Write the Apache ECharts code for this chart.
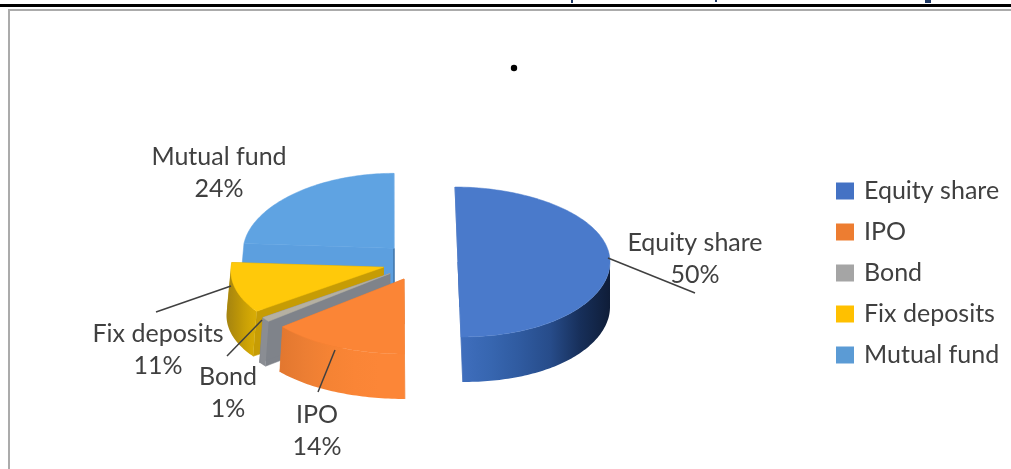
<!DOCTYPE html>
<html>
<head>
<meta charset="utf-8">
<style>html,body{margin:0;padding:0;background:#fff}#chart{width:1011px;height:469px}</style>
<script src="https://cdn.jsdelivr.net/npm/echarts@6/dist/echarts.min.js"></script>
</head>
<body>
<div id="chart"></div>
<script>
// Investment preference split, shown as an exploded tilted pie.
const categories = ['Equity share', 'IPO', 'Bond', 'Fix deposits', 'Mutual fund'];
const shares = [50, 14, 1, 11, 24];

const legendColors = ['#4472C4', '#ED7D31', '#A5A5A5', '#FFC000', '#5B9BD5'];
const faceColors = ['#4A7ACB', '#FB8536', '#B5B0A2', '#FFC90A', '#5FA3E2'];
const cutColors = ['#3D69B5', '#E5762C', '#7F838A', '#C69C05', '#5C9FDF'];
const rimStops = [
  ['#3F6EBD', '#3766B0', '#2F5A9F', '#274C8A', '#172F5A', '#0F1D38'],
  ['#E2772F', '#EC7E33', '#F58334', '#FA8536', '#FC8637', '#FC8637'],
  ['#83868C', '#8A8D93', '#8A8D93', '#8A8D93', '#8A8D93', '#8A8D93'],
  ['#A58410', '#B08C0C', '#BC9508', '#C89F06', '#D2A705', '#D9AD05'],
  ['#5B9CDB', '#5B9CDB', '#5B9CDB', '#5B9CDB', '#5B9CDB', '#5B9CDB']
];

// Label centres and leader lines, in page pixels.
const labelCentres = [[695, 259], [317, 431], [228, 393], [158, 350], [219, 173]];
const leaderLines = [
  [[608, 258], [695, 293]],
  [[335, 350], [318, 392]],
  [[262, 320], [227, 356]],
  [[231, 286], [156, 312]],
  null
];

const pie = { cx: 420, cy: 262, rx: 152, ry: 75, depth: 45, explode: 38, warp: 0.0006 };
const inkColor = '#404040';
const fontFamily = 'Lato, "Open Sans", sans-serif';

const total = shares.reduce((a, b) => a + b, 0);
let running = 0;
const sweeps = shares.map(v => {
  const from = running / total * Math.PI * 2;
  running += v;
  return [from, running / total * Math.PI * 2];
});

// Angles run clockwise from twelve o'clock. A little keystone narrows the far
// side and fades out toward the right-hand extreme of the pie.
function project(ox, oy, theta, radial, drop) {
  const x = ox + pie.rx * radial * Math.sin(theta);
  const y = oy - pie.ry * radial * Math.cos(theta) + drop;
  const taper = Math.min(1, Math.max(0, (pie.cx + 190 - x) / pie.rx));
  return [x + (x - 392) * (y - pie.cy) * pie.warp * taper, y];
}

function arcPoints(ox, oy, a, b, drop) {
  const steps = Math.max(2, Math.ceil((b - a) / 0.02));
  const pts = [];
  for (let i = 0; i <= steps; i++) {
    pts.push(project(ox, oy, a + (b - a) * i / steps, 1, drop));
  }
  return pts;
}

function sliceRenderer(index) {
  return function () {
    const [a, b] = sweeps[index];
    const mid = (a + b) / 2;
    const ox = pie.cx + pie.explode * Math.sin(mid);
    const oy = pie.cy - pie.ry / pie.rx * pie.explode * Math.cos(mid);
    const children = [];

    // Flat cut faces behind the rim.
    [a, b].forEach(theta => {
      const apexTop = project(ox, oy, theta, 0, 0);
      const apexLow = project(ox, oy, theta, 0, pie.depth);
      const edgeTop = project(ox, oy, theta, 1, 0);
      const edgeLow = project(ox, oy, theta, 1, pie.depth);
      children.push({
        type: 'polygon',
        shape: { points: [apexTop, edgeTop, edgeLow, apexLow] },
        style: { fill: cutColors[index], stroke: cutColors[index], lineWidth: 0.5 }
      });
    });

    // The cut at twelve o'clock is seen edge-on, as a thin dark seam.
    if (b >= Math.PI * 2 - 1e-6) {
      children.push({
        type: 'polyline',
        shape: { points: [project(ox, oy, b, 0, 0), project(ox, oy, b, 0, pie.depth)] },
        style: { stroke: '#33608F', lineWidth: 1, fill: 'none' }
      });
    }

    // Curved rim, only where it faces the viewer.
    const lo = Math.max(a, Math.PI / 2);
    const hi = Math.min(b, Math.PI * 1.5);
    if (hi > lo) {
      const upper = arcPoints(ox, oy, lo, hi, 0);
      const lower = arcPoints(ox, oy, lo, hi, pie.depth).reverse();
      const stops = rimStops[index];
      const shade = stops.map((color, i) => ({ offset: i / (stops.length - 1), color }));
      children.push({
        type: 'polygon',
        shape: { points: upper.concat(lower) },
        style: { fill: { type: 'linear', x: 0, y: 0, x2: 1, y2: 0, colorStops: shade } }
      });
    }

    // Top face.
    const face = [project(ox, oy, a, 0, 0)].concat(arcPoints(ox, oy, a, b, 0));
    children.push({
      type: 'polygon',
      shape: { points: face },
      style: { fill: faceColors[index], stroke: faceColors[index], lineWidth: 0.5 }
    });

    return { type: 'group', children };
  };
}

// Paint order: slices pushed furthest back go first.
const depthOrder = shares.map((_, i) => i).sort((p, q) => {
  const mp = (sweeps[p][0] + sweeps[p][1]) / 2;
  const mq = (sweeps[q][0] + sweeps[q][1]) / 2;
  return Math.cos(mq) - Math.cos(mp);
});

const sliceSeries = categories.map((name, i) => ({
  type: 'custom',
  name,
  coordinateSystem: 'none',
  silent: true,
  z: 2 + depthOrder.indexOf(i),
  itemStyle: { color: legendColors[i] },
  data: [[shares[i]]],
  renderItem: sliceRenderer(i)
}));

const labelSeries = {
  type: 'custom',
  name: 'labels',
  coordinateSystem: 'none',
  silent: true,
  z: 20,
  data: shares.map(v => [v]),
  renderItem(params, api) {
    const i = params.dataIndex;
    const children = [{
      type: 'text',
      style: {
        x: labelCentres[i][0],
        y: labelCentres[i][1],
        text: categories[i] + '\n' + api.value(0) + '%',
        fill: inkColor,
        font: '25px ' + fontFamily,
        lineHeight: 32,
        align: 'center',
        verticalAlign: 'middle'
      }
    }];
    if (leaderLines[i]) {
      children.push({
        type: 'polyline',
        shape: { points: leaderLines[i] },
        style: { stroke: inkColor, lineWidth: 1.5, fill: 'none' }
      });
    }
    return { type: 'group', children };
  }
};

const chart = echarts.init(document.getElementById('chart'), null, { renderer: 'canvas' });
chart.setOption({
  animation: false,
  backgroundColor: '#fff',
  legend: {
    data: categories,
    orient: 'vertical',
    left: 836,
    top: 177,
    padding: 0,
    selectedMode: false,
    icon: 'rect',
    itemWidth: 18,
    itemHeight: 17,
    itemGap: 13,
    textStyle: { color: inkColor, fontSize: 25, fontFamily, height: 28, lineHeight: 28, padding: [0, 0, 0, 5] }
  },
  graphic: [
    // Page furniture: heavy rule, chart frame, and the stray dot above the pie.
    { type: 'rect', shape: { x: 0, y: 4, width: 1011, height: 3 }, style: { fill: '#000' } },
    { type: 'rect', shape: { x: 8, y: 9, width: 1003, height: 2 }, style: { fill: '#ABABAB' } },
    { type: 'rect', shape: { x: 8, y: 9, width: 2, height: 460 }, style: { fill: '#ABABAB' } },
    { type: 'circle', shape: { cx: 514, cy: 68, r: 3.2 }, style: { fill: '#000' } },
    { type: 'rect', shape: { x: 571, y: 0, width: 2, height: 3 }, style: { fill: '#1F3864' } },
    { type: 'rect', shape: { x: 715, y: 0, width: 2, height: 2 }, style: { fill: '#1F3864' } },
    { type: 'rect', shape: { x: 925, y: 0, width: 6, height: 3 }, style: { fill: '#1F3864' } }
  ],
  series: sliceSeries.concat([labelSeries])
});
</script>
</body>
</html>
